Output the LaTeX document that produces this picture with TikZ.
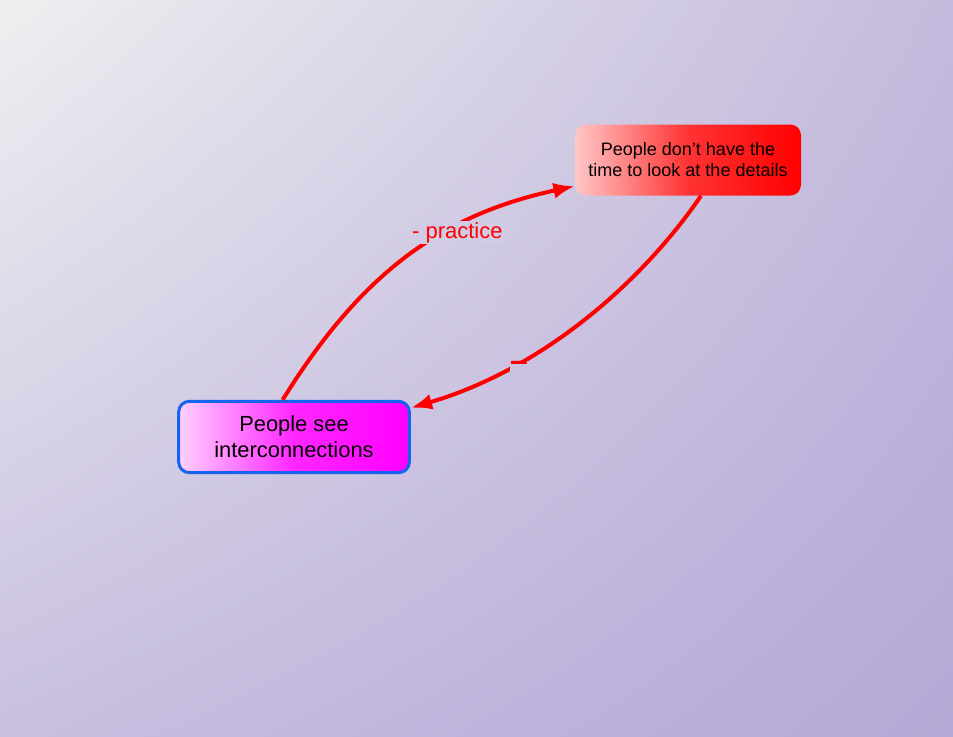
\documentclass[tikz,border=0pt]{standalone}
\usepackage{fontspec}
\setmainfont{Liberation Sans}
\usetikzlibrary{arrows.meta,shadings}

\definecolor{bgtl}{RGB}{239,239,240}
\definecolor{bgtr}{RGB}{196,186,221}
\definecolor{bgbl}{RGB}{200,191,224}
\definecolor{bgbr}{RGB}{180,168,214}
\definecolor{bgmid}{RGB}{209,203,227}
\definecolor{bgmid2}{RGB}{203,195,224}
\definecolor{boxblue}{RGB}{20,100,240}

\begin{document}
\begin{tikzpicture}[x=0.75pt, y=-0.75pt, every node/.style={font=\fontsize{13.5}{15.75}\selectfont}, >={Latex[length=16pt,width=12pt]}]
	\shade[upper left=bgtl, upper right=bgtr, lower left=bgbl, lower right=bgbr] (0,0) rectangle (953,736);
	\useasboundingbox (0,0) rectangle (953,736);
	\tikzset{
		loopbox/.style={rounded corners=8pt, align=center, inner sep=2pt},
		link/.style={->, red, line width=3pt},
		linklabel/.style={text=red, inner sep=1pt, font=\fontsize{16.5}{18}\selectfont}
	}
	\node[loopbox, minimum width=169.5pt, minimum height=53.25pt, left color=red!22!white, right color=red, middle color=red!80!white, shading angle=90] (time) at (688,160) {People don't have the\\time to look at the details};
	\node[loopbox, minimum width=173pt, minimum height=53.5pt, draw=boxblue, line width=2.25pt, left color=magenta!18!white, right color=magenta, middle color=magenta!85!white, font=\fontsize{16.4}{19.5}\selectfont] (see) at (294,437) {People see\\interconnections};
	\draw[link] (see.107) .. controls (360,275) and (440,215) .. (time.193) node[pos=0.67, yshift=-5pt, fill=bgmid, linklabel] (practice) {- practice};
	\draw[link] (time.-70) .. controls (640,285) and (540,370) .. (see.14) node[pos=0.70, yshift=-3pt, fill=bgmid2, linklabel, inner sep=0pt] (minus) {\fontsize{24}{24}\selectfont\bfseries --};
\end{tikzpicture}
\end{document}
